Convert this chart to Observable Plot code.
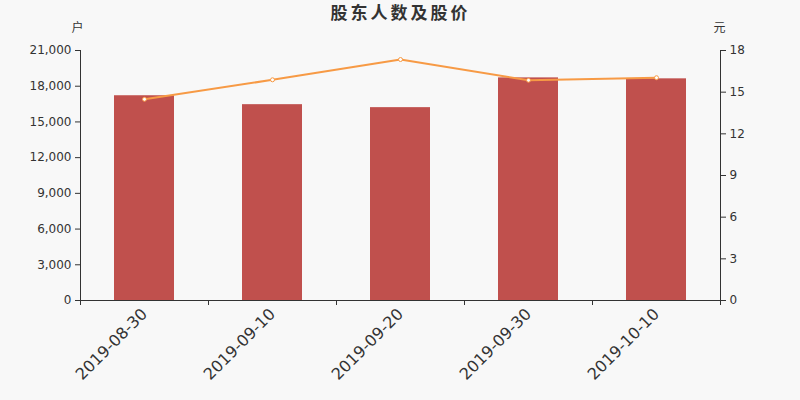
<!DOCTYPE html>
<html>
<head>
<meta charset="utf-8">
<script src="https://cdn.jsdelivr.net/npm/d3@7"></script>
<script src="https://cdn.jsdelivr.net/npm/@observablehq/plot@0.6"></script>
<style>
  html, body { margin: 0; padding: 0; background: #f8f8f8; }
  #chart svg { display: block; background: #f8f8f8; }
</style>
</head>
<body>
<div id="chart"></div>
<script>
const dates = ["2019-08-30", "2019-09-10", "2019-09-20", "2019-09-30", "2019-10-10"];
const holders = [17200, 16450, 16200, 18700, 18620];
const prices = [14.49, 15.89, 17.35, 15.86, 16.04];
const leftTicks = [0, 3000, 6000, 9000, 12000, 15000, 18000, 21000];
const rightTicks = [0, 3, 6, 9, 12, 15, 18];
const title = "股东人数及股价";
const leftUnit = "户";
const rightUnit = "元";

const k = 21000 / 18;
const rows = dates.map((d, i) => ({date: d, holders: holders[i], price: prices[i] * k}));
const font = "'DejaVu Sans', 'Noto Sans CJK SC', sans-serif";
const cjk = "'Noto Sans CJK SC', sans-serif";
const axisColor = "#333";

const chart = Plot.plot({
  width: 800,
  height: 400,
  marginTop: 50,
  marginBottom: 100,
  marginLeft: 80,
  marginRight: 80,
  style: {background: "#f8f8f8", fontFamily: font, color: "#333"},
  x: {domain: dates, paddingInner: 0.53, paddingOuter: 0.265, label: null},
  y: {domain: [0, 21000], label: null},
  marks: [
    Plot.barY(rows, {x: "date", y: "holders", fill: "#c0504d"}),
    Plot.line(rows, {x: "date", y: "price", stroke: "#f79a45", strokeWidth: 2}),
    Plot.dot(rows, {x: "date", y: "price", r: 2, fill: "#fff", stroke: "#f79a45", strokeWidth: 1}),
    Plot.ruleY([0], {stroke: axisColor}),
    Plot.ruleX([dates[0]], {y1: 0, y2: 21000, dx: -64, stroke: axisColor}),
    Plot.ruleX([dates[dates.length - 1]], {y1: 0, y2: 21000, dx: 64, stroke: axisColor}),
    Plot.axisY(leftTicks, {anchor: "left", tickFormat: d3.format(","), tickSize: 5, tickPadding: 4, fontSize: 12, stroke: axisColor, fill: "#333", label: null}),
    Plot.axisY(rightTicks.map(v => v * k), {anchor: "right", tickFormat: d => String(Math.round(d / k)), tickSize: 5, tickPadding: 4, fontSize: 12, stroke: axisColor, fill: "#333", label: null}),
    Plot.axisX(dates, {anchor: "bottom", tickSize: 5, dx: -64, tickFormat: () => "", stroke: axisColor, label: null}),
    Plot.axisX([dates[dates.length - 1]], {anchor: "bottom", tickSize: 5, dx: 64, tickFormat: () => "", stroke: axisColor, label: null}),
    Plot.axisX(dates, {anchor: "bottom", tickSize: 0, tickPadding: 11, tickRotate: -45, fontSize: 16, fill: "#333", label: null}),
    Plot.text([title], {frameAnchor: "top", lineAnchor: "middle", dy: -36.5, fontSize: 17, fontWeight: "bold", fill: "#333", fontFamily: cjk, className: "chart-title"}),
    Plot.text([leftUnit], {frameAnchor: "top-left", textAnchor: "middle", lineAnchor: "middle", dx: -3, dy: -22, fontSize: 12, fill: "#333", fontFamily: cjk}),
    Plot.text([rightUnit], {frameAnchor: "top-right", textAnchor: "middle", lineAnchor: "middle", dx: -1, dy: -22, fontSize: 12, fill: "#333", fontFamily: cjk})
  ]
});
d3.select(chart).selectAll(".chart-title text").attr("letter-spacing", "3px");
document.getElementById("chart").appendChild(chart);
</script>
</body>
</html>
